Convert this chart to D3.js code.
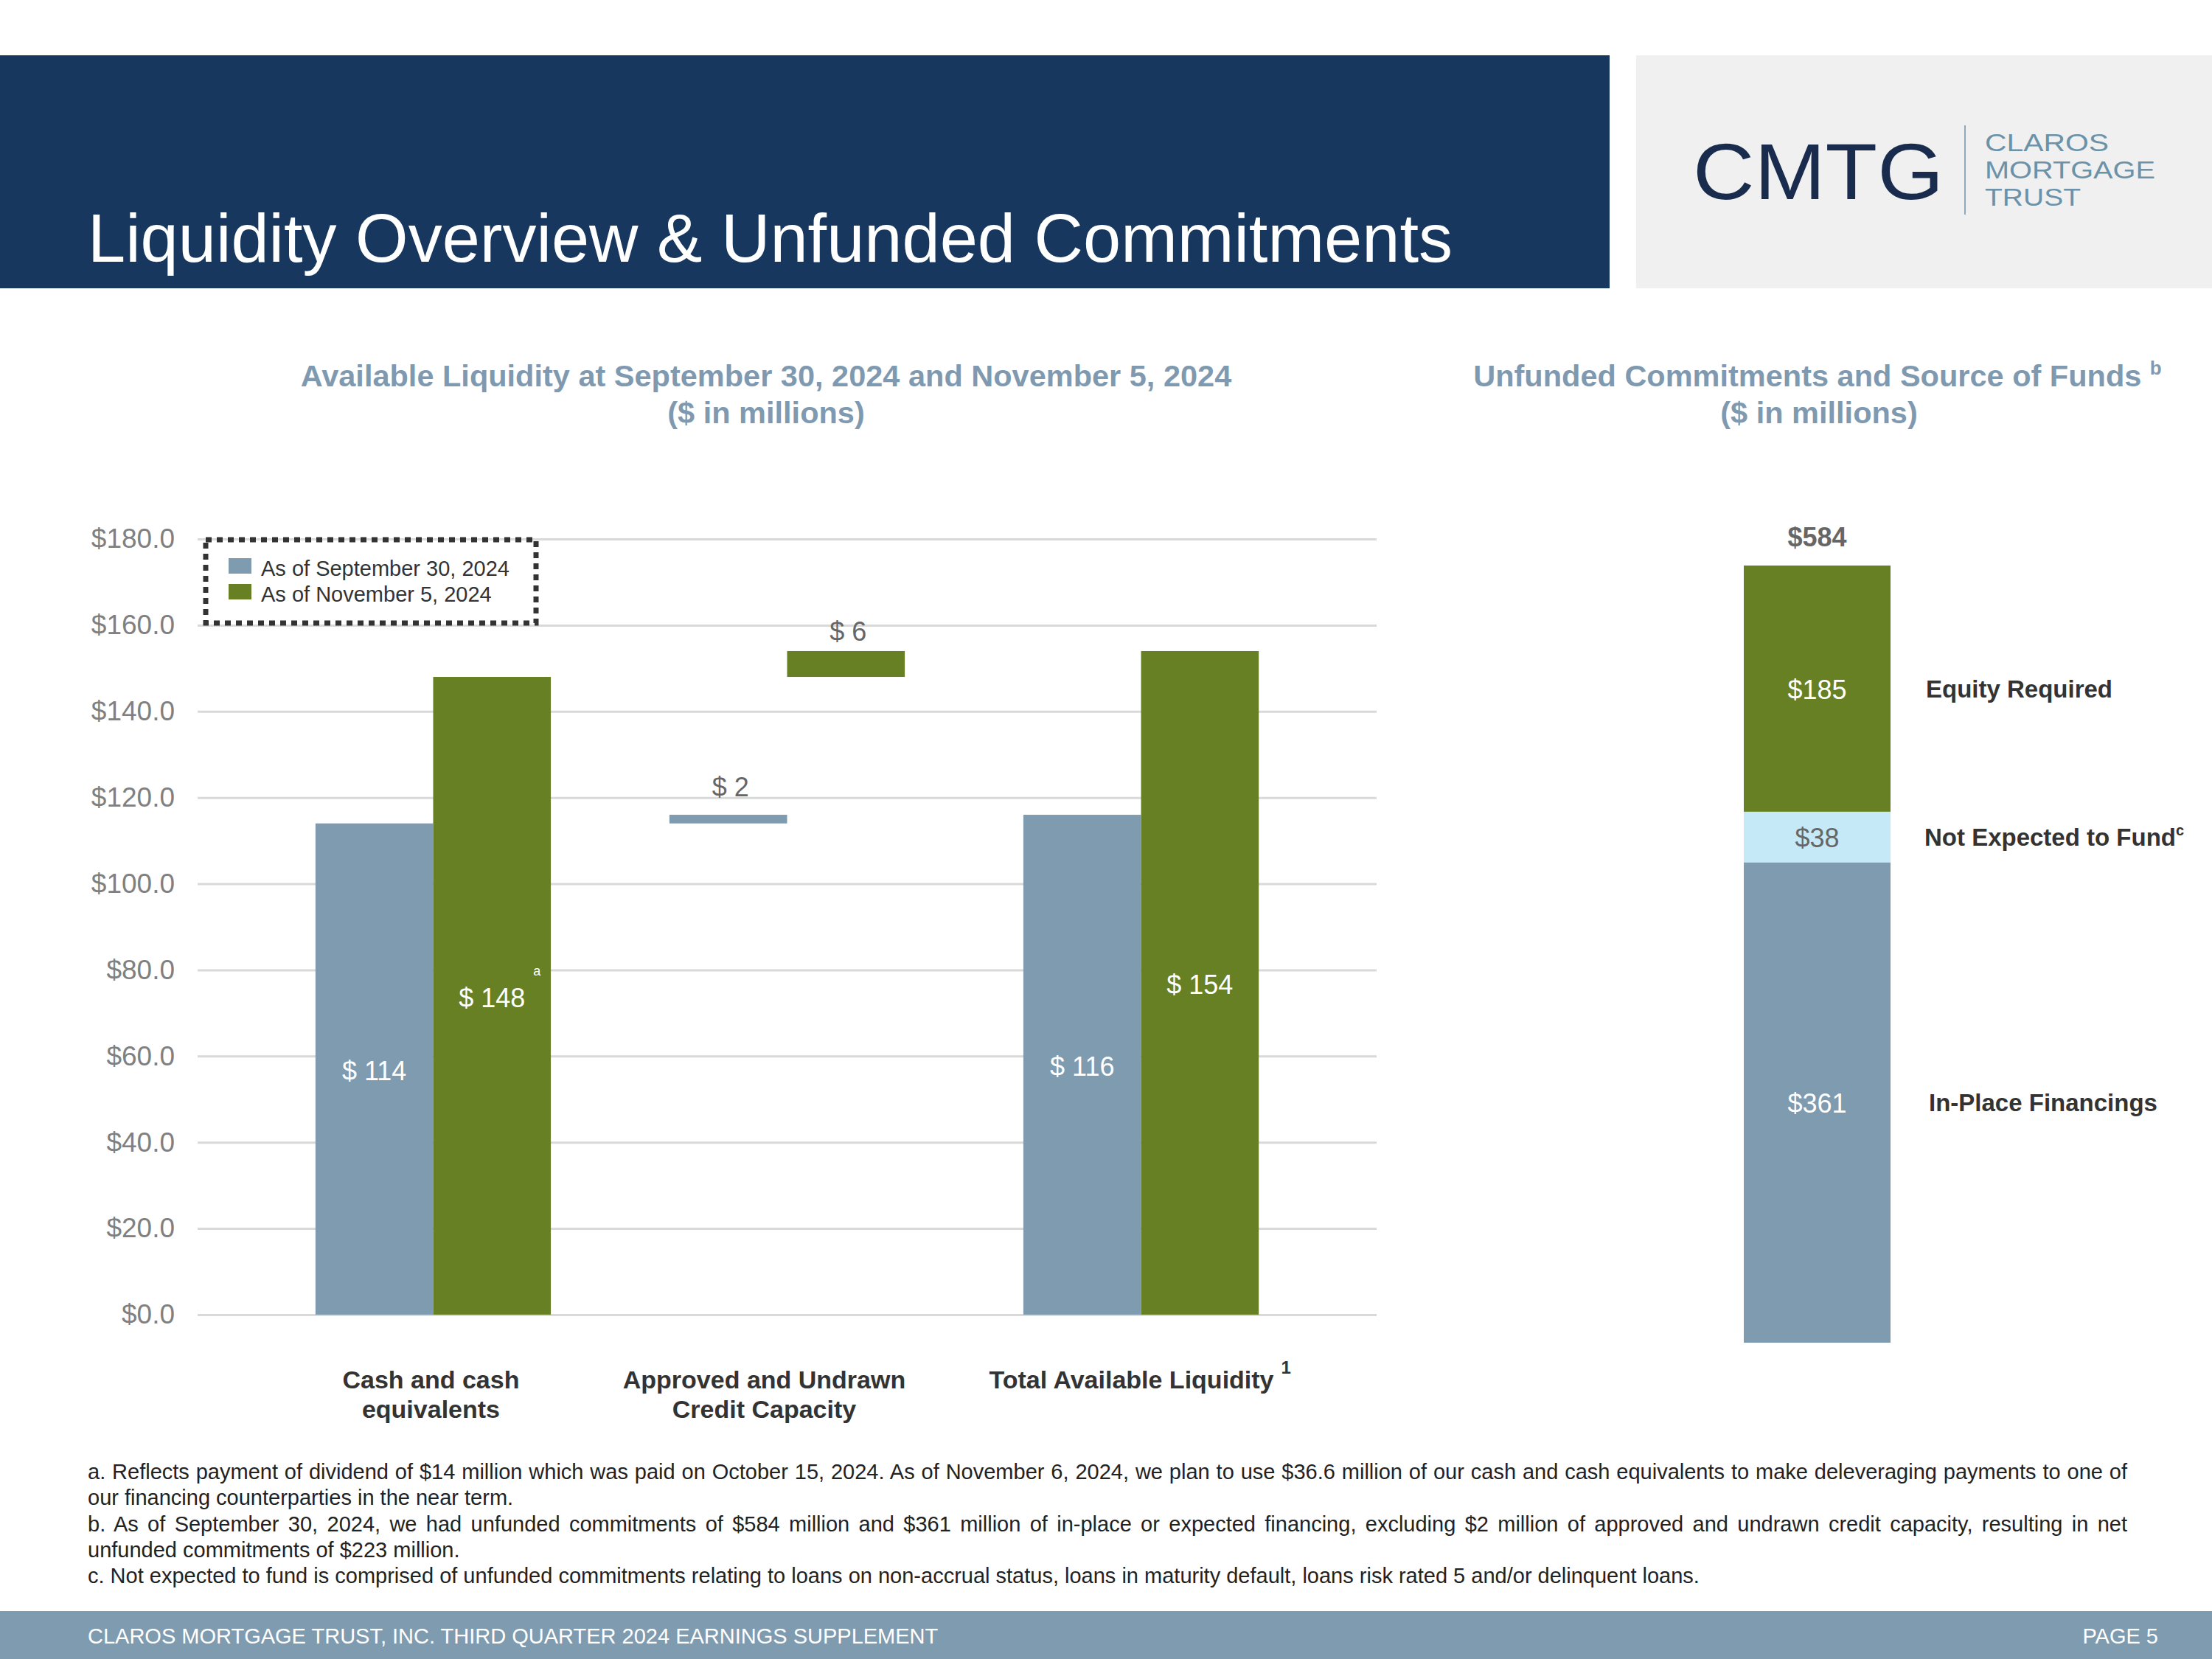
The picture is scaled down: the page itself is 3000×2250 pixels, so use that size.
<!DOCTYPE html>
<html>
<head>
<meta charset="utf-8">
<script src="https://cdn.jsdelivr.net/npm/d3@7"></script>
<style>
  body { margin: 0; background: #fff; }
  svg { display: block; font-family: "Liberation Sans", Arial, sans-serif; }
  .tick line { stroke: #d9d9d9; stroke-width: 3; }
  .tick text { fill: #808080; font-size: 37px; }
</style>
</head>
<body>
<div id="page"></div>
<script>
// Left chart data
const categories = [["Cash and cash", "equivalents"], ["Approved and Undrawn", "Credit Capacity"], ["Total Available Liquidity"]];
const seriesNames = ["As of September 30, 2024", "As of November 5, 2024"];
const septValues = [114, 2, 116];
const novValues = [148, 6, 154];
const isFloating = [false, true, false];
const yTickValues = [0, 20, 40, 60, 80, 100, 120, 140, 160, 180];

// Right chart data
const fundSegments = ["In-Place Financings", "Not Expected to Fund", "Equity Required"];
const fundValues = [361, 38, 185];
const fundTotal = 584;

const footnotes = [
  "a. Reflects payment of dividend of $14 million which was paid on October 15, 2024. As of November 6, 2024, we plan to use $36.6 million of our cash and cash equivalents to make deleveraging payments to one of",
  "our financing counterparties in the near term.",
  "b. As of September 30, 2024, we had unfunded commitments of $584 million and $361 million of in-place or expected financing, excluding $2 million of approved and undrawn credit capacity, resulting in net",
  "unfunded commitments of $223 million.",
  "c. Not expected to fund is comprised of unfunded commitments relating to loans on non-accrual status, loans in maturity default, loans risk rated 5 and/or delinquent loans."
];

const W = 3000, H = 2250;
const colors = { sept: "#7f9bb0", nov: "#678023", light: "#c6e9f8", navy: "#17375e", title: "#7f9ab0" };

const svg = d3.select("#page").append("svg")
  .attr("width", W).attr("height", H);

// Header
svg.append("rect").attr("x", 0).attr("y", 75).attr("width", 2183).attr("height", 316).attr("fill", colors.navy);
svg.append("rect").attr("x", 2219).attr("y", 75).attr("width", 781).attr("height", 316).attr("fill", "#f0f0f0");
svg.append("text")
  .attr("x", 119).attr("y", 355)
  .attr("fill", "#fff").attr("font-size", 92)
  .text("Liquidity Overview & Unfunded Commitments");

// Logo
svg.append("text")
  .attr("x", 2296).attr("y", 270)
  .attr("fill", "#1a2c4e").attr("font-size", 108)
  .attr("textLength", 340).attr("lengthAdjust", "spacingAndGlyphs")
  .text("CMTG");
svg.append("line")
  .attr("x1", 2665).attr("x2", 2665).attr("y1", 170).attr("y2", 291)
  .attr("stroke", "#8fa9bb").attr("stroke-width", 2);
const logoWords = ["CLAROS", "MORTGAGE", "TRUST"];
const logoWidths = [168, 231, 130];
logoWords.forEach((w, i) => {
  svg.append("text")
    .attr("x", 2692).attr("y", 205 + i * 37)
    .attr("fill", "#6b92a9").attr("font-size", 33)
    .attr("textLength", logoWidths[i]).attr("lengthAdjust", "spacingAndGlyphs")
    .text(w);
});

// Chart titles
const leftTitle = svg.append("text").attr("text-anchor", "middle").attr("fill", colors.title)
  .attr("font-weight", "bold").attr("font-size", 41.5);
leftTitle.append("tspan").attr("x", 1039).attr("y", 524).text("Available Liquidity at September 30, 2024 and November 5, 2024");
leftTitle.append("tspan").attr("x", 1039).attr("y", 574).text("($ in millions)");

const rightTitle = svg.append("text").attr("text-anchor", "middle").attr("fill", colors.title)
  .attr("font-weight", "bold").attr("font-size", 41.5);
rightTitle.append("tspan").attr("x", 2465).attr("y", 524).text("Unfunded Commitments and Source of Funds ");
rightTitle.append("tspan").attr("font-size", 26).attr("dy", -16).text("b");
rightTitle.append("tspan").attr("x", 2467).attr("y", 574).text("($ in millions)");

// Left chart scales
const plotLeft = 268, plotRight = 1867;
const x = d3.scaleBand()
  .domain(d3.range(categories.length))
  .range([plotLeft, plotRight])
  .paddingInner(0.335)
  .paddingOuter(0.333);
const xSeries = d3.scaleBand()
  .domain([0, 1])
  .range([0, x.bandwidth()]);
const y = d3.scaleLinear().domain([0, 180]).range([1783, 731]);

// Y axis with gridlines
const yAxis = svg.append("g")
  .attr("transform", `translate(${plotLeft},0)`)
  .call(d3.axisLeft(y).tickValues(yTickValues).tickFormat(d3.format("$.1f"))
    .tickSize(-(plotRight - plotLeft)).tickPadding(31));
yAxis.select(".domain").remove();
yAxis.selectAll(".tick text").attr("font-family", "'Liberation Sans', Arial, sans-serif");

// Bars
const barData = [];
categories.forEach((c, i) => {
  [septValues, novValues].forEach((vals, s) => {
    const base = isFloating[i] ? [septValues, novValues][s][0] : 0;
    barData.push({ cat: i, s, value: vals[i], y0: base, y1: base + vals[i], floating: isFloating[i] });
  });
});

svg.append("g").selectAll("rect")
  .data(barData)
  .join("rect")
  .attr("x", d => x(d.cat) + xSeries(d.s))
  .attr("width", xSeries.bandwidth())
  .attr("y", d => y(d.y1))
  .attr("height", d => y(d.y0) - y(d.y1))
  .attr("fill", d => d.s === 0 ? colors.sept : colors.nov);

// Value labels (floating ones sit a fixed distance above their bar centre)
svg.append("g").selectAll("text")
  .data(barData)
  .join("text")
  .attr("x", d => x(d.cat) + xSeries(d.s) + xSeries.bandwidth() / 2 + (d.floating ? 3 : 0))
  .attr("y", d => d.floating ? y((d.y0 + d.y1) / 2) - 31 : y((d.y0 + d.y1) / 2) + 15)
  .attr("text-anchor", "middle")
  .attr("font-size", 36)
  .attr("fill", d => d.floating ? "#666" : "#fff")
  .text(d => `$ ${d.value}`);

// footnote marker on the Nov cash bar
svg.append("text")
  .attr("x", x(0) + xSeries(1) + xSeries.bandwidth() / 2 + 56)
  .attr("y", y(novValues[0] / 2) - 28)
  .attr("font-size", 18).attr("fill", "#fff")
  .text("a");

// Category labels
const labelShift = [-3, -31, -13];
categories.forEach((lines, i) => {
  const t = svg.append("text")
    .attr("text-anchor", "middle")
    .attr("font-weight", "bold").attr("font-size", 34).attr("fill", "#333");
  lines.forEach((ln, j) => {
    t.append("tspan").attr("x", x(i) + x.bandwidth() / 2 + labelShift[i]).attr("y", 1883 + j * 40).text(ln);
  });
});
svg.append("text")
  .attr("x", x(2) + x.bandwidth() / 2 + 190)
  .attr("y", 1863)
  .attr("font-weight", "bold").attr("font-size", 24).attr("fill", "#333")
  .text("1");

// Legend
svg.append("rect")
  .attr("x", 279).attr("y", 732).attr("width", 448).attr("height", 113)
  .attr("fill", "none").attr("stroke", "#333").attr("stroke-width", 7)
  .attr("stroke-dasharray", "8,7");
seriesNames.forEach((name, i) => {
  svg.append("rect")
    .attr("x", 310).attr("y", 757 + i * 35).attr("width", 31).attr("height", 21)
    .attr("fill", i === 0 ? colors.sept : colors.nov);
  svg.append("text")
    .attr("x", 354).attr("y", 781 + i * 35)
    .attr("font-size", 29).attr("fill", "#333")
    .text(name);
});

// Right chart: stacked bar
const yR = d3.scaleLinear().domain([0, fundTotal]).range([1821, 767]);
const stackData = [Object.fromEntries(fundSegments.map((k, i) => [k, fundValues[i]]))];
const stacked = d3.stack().keys(fundSegments)(stackData);
const barX = 2365, barW = 199;
const segColors = [colors.sept, colors.light, colors.nov];
const segTextColors = ["#fff", "#666", "#fff"];

const segs = svg.append("g").selectAll("g")
  .data(stacked)
  .join("g");
segs.append("rect")
  .attr("x", barX).attr("width", barW)
  .attr("y", d => yR(d[0][1]))
  .attr("height", d => yR(d[0][0]) - yR(d[0][1]))
  .attr("fill", (d, i) => segColors[i]);
segs.append("text")
  .attr("x", barX + barW / 2)
  .attr("y", d => yR((d[0][0] + d[0][1]) / 2) + 14)
  .attr("text-anchor", "middle").attr("font-size", 36)
  .attr("fill", (d, i) => segTextColors[i])
  .text((d, i) => `$${fundValues[i]}`);
const sideX = [2616, 2610, 2612];
const sideLabels = segs.append("text")
  .attr("x", (d, i) => sideX[i])
  .attr("y", d => yR((d[0][0] + d[0][1]) / 2) + 12)
  .attr("font-weight", "bold").attr("font-size", 33).attr("fill", "#333");
sideLabels.append("tspan").text(d => d.key);
sideLabels.filter(d => d.key === "Not Expected to Fund")
  .append("tspan").attr("font-size", 20).attr("dy", -14).text("c");

svg.append("text")
  .attr("x", barX + barW / 2).attr("y", yR(fundTotal) - 26)
  .attr("text-anchor", "middle")
  .attr("font-weight", "bold").attr("font-size", 36).attr("fill", "#666")
  .text(`$${fundTotal}`);

// Footnotes (first lines of a and b are justified by widening word gaps)
const noteY = [2006, 2041, 2077, 2112, 2147];
const noteLeft = 119, noteRight = 2885;
footnotes.forEach((line, i) => {
  const t = svg.append("text")
    .attr("x", noteLeft).attr("y", noteY[i])
    .attr("font-size", 29).attr("fill", "#222")
    .text(line);
  if (i === 0 || i === 2) {
    const natural = t.node().getComputedTextLength();
    const gaps = line.split(" ").length - 1;
    const extra = (noteRight - noteLeft - natural) / gaps;
    t.attr("word-spacing", extra);
  }
});

// Footer
svg.append("rect").attr("x", 0).attr("y", 2185).attr("width", W).attr("height", 65).attr("fill", "#7f9bb0");
svg.append("text")
  .attr("x", 119).attr("y", 2229)
  .attr("font-size", 29).attr("fill", "#fff")
  .text("CLAROS MORTGAGE TRUST, INC. THIRD QUARTER 2024 EARNINGS SUPPLEMENT");
svg.append("text")
  .attr("x", 2927).attr("y", 2229).attr("text-anchor", "end")
  .attr("font-size", 29).attr("fill", "#fff")
  .text("PAGE 5");
</script>
</body>
</html>
